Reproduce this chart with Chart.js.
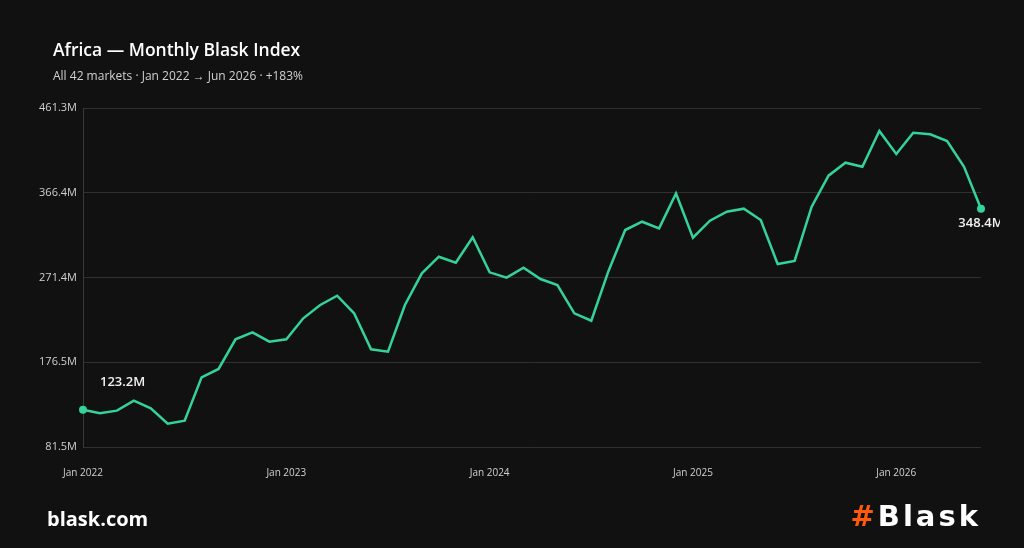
<!DOCTYPE html>
<html>
<head>
<meta charset="utf-8">
<script src="https://cdn.jsdelivr.net/npm/chart.js@4"></script>
<style>
  html, body { margin: 0; padding: 0; background: #111111; }
  #wrap { position: relative; width: 1024px; height: 548px; overflow: hidden; font-family: "Open Sans", sans-serif; }
  #chart { position: absolute; left: 0; top: 0; }
  .title { position: absolute; left: 53px; top: 37px; color: #ffffff; font-size: 17.5px; font-weight: 600; }
  .sub { position: absolute; left: 53px; top: 67px; color: #d0d0d0; font-size: 12px; }
  .site { position: absolute; left: 47px; top: 505px; color: #ffffff; font-size: 20px; font-weight: 700; letter-spacing: 0px; }
  .logo { position: absolute; right: 46px; top: 499px; color: #ffffff; font-size: 29px; font-weight: 700; font-family: "DejaVu Sans", sans-serif; letter-spacing: 3px; }
  .logo span { color: #ff5a0a; margin-right: 0px; }
</style>
</head>
<body>
<div id="wrap">
  <canvas id="chart" width="1024" height="548"></canvas>
  <div class="title">Africa — Monthly Blask Index</div>
  <div class="sub">All 42 markets · Jan 2022 → Jun 2026 · +183%</div>
  <div class="site">blask.com</div>
  <div class="logo"><span>#</span>Blas<span style="color:#fff;letter-spacing:0">k</span></div>
</div>
<script>
const months = ["Jan", "Feb", "Mar", "Apr", "May", "Jun", "Jul", "Aug", "Sep", "Oct", "Nov", "Dec"];
const years = [2022, 2023, 2024, 2025, 2026];

// Jan 2022 .. Jun 2026, millions
let values = [
  123.2, 119.3, 122.2, 133.4, 124.9, 107.6, 111.0, 159.6, 168.9, 202.2, 210.0, 199.5,
  202.2, 225.7, 240.6, 251.0, 231.3, 191.0, 188.3, 240.6, 276.1, 294.7, 288.0, 316.5,
  277.2, 271.2, 282.4, 269.7, 263.0, 231.3, 223.0, 277.9, 324.6, 333.9, 326.5, 365.5,
  316.0, 335.0, 345.1, 348.5, 335.8, 286.5, 289.9, 350.5, 385.5, 400.0, 395.5, 435.5,
  409.8, 433.6, 431.8, 424.3, 395.5, 348.4,
];

let tickValues = [81.5, 176.45, 271.4, 366.35, 461.3];
let tickLabels = ["81.5M", "176.5M", "271.4M", "366.4M", "461.3M"];

let labels = [];
years.forEach((y) => months.forEach((m) => labels.push(m + " " + y)));
labels = labels.slice(0, values.length);

const lineColor = "#34d399";
const last = values.length - 1;

// labels on first and last point
const endLabels = {
  id: "endLabels",
  afterDatasetsDraw(chart) {
    const ctx = chart.ctx;
    const pts = chart.getDatasetMeta(0).data;
    ctx.save();
    ctx.fillStyle = "#f0f0f0";
    ctx.font = "600 13px 'Open Sans'";
    ctx.textBaseline = "middle";
    ctx.textAlign = "left";
    ctx.fillText(values[0].toFixed(1) + "M", pts[0].x + 17, pts[0].y - 27);
    // the right label runs off the plot box in the original, cut at ~1000px
    ctx.beginPath();
    ctx.rect(0, 0, 1000, chart.height);
    ctx.clip();
    ctx.textAlign = "center";
    ctx.fillText(values[last].toFixed(1) + "M", pts[last].x, pts[last].y + 15);
    ctx.restore();
  },
};

new Chart(document.getElementById("chart"), {
  type: "line",
  data: {
    labels: labels,
    datasets: [
      {
        data: values,
        borderColor: lineColor,
        backgroundColor: lineColor,
        borderWidth: 2.5,
        tension: 0,
        pointRadius: (c) => (c.dataIndex === 0 || c.dataIndex === last ? 4 : 0),
        pointHoverRadius: 0,
        pointBorderWidth: 0,
      },
    ],
  },
  options: {
    responsive: false,
    animation: false,
    layout: { padding: { left: 0, right: 43, top: 108, bottom: 0 } },
    plugins: {
      legend: { display: false },
      tooltip: { enabled: false },
    },
    scales: {
      x: {
        grid: { display: false },
        border: { display: false },
        afterFit: (s) => { s.height = 101; },
        ticks: {
          autoSkip: false,
          maxRotation: 0,
          padding: 12,
          color: "#d0d0d0",
          font: { family: "Open Sans", size: 10 },
          callback: function (v, i) {
            return i % 12 === 0 ? labels[i] : "";
          },
        },
      },
      y: {
        min: tickValues[0],
        max: tickValues[tickValues.length - 1],
        afterFit: (s) => { s.width = 83; },
        afterBuildTicks: (s) => { s.ticks = tickValues.map((v) => ({ value: v })); },
        grid: { color: "#303030", drawTicks: false, lineWidth: 1 },
        border: { display: true, color: "#3a3a3a" },
        ticks: {
          padding: 6,
          color: "#d0d0d0",
          font: { family: "Open Sans", size: 11 },
          callback: (v, i) => tickLabels[i],
        },
      },
    },
  },
  plugins: [endLabels],
});
</script>
</body>
</html>
